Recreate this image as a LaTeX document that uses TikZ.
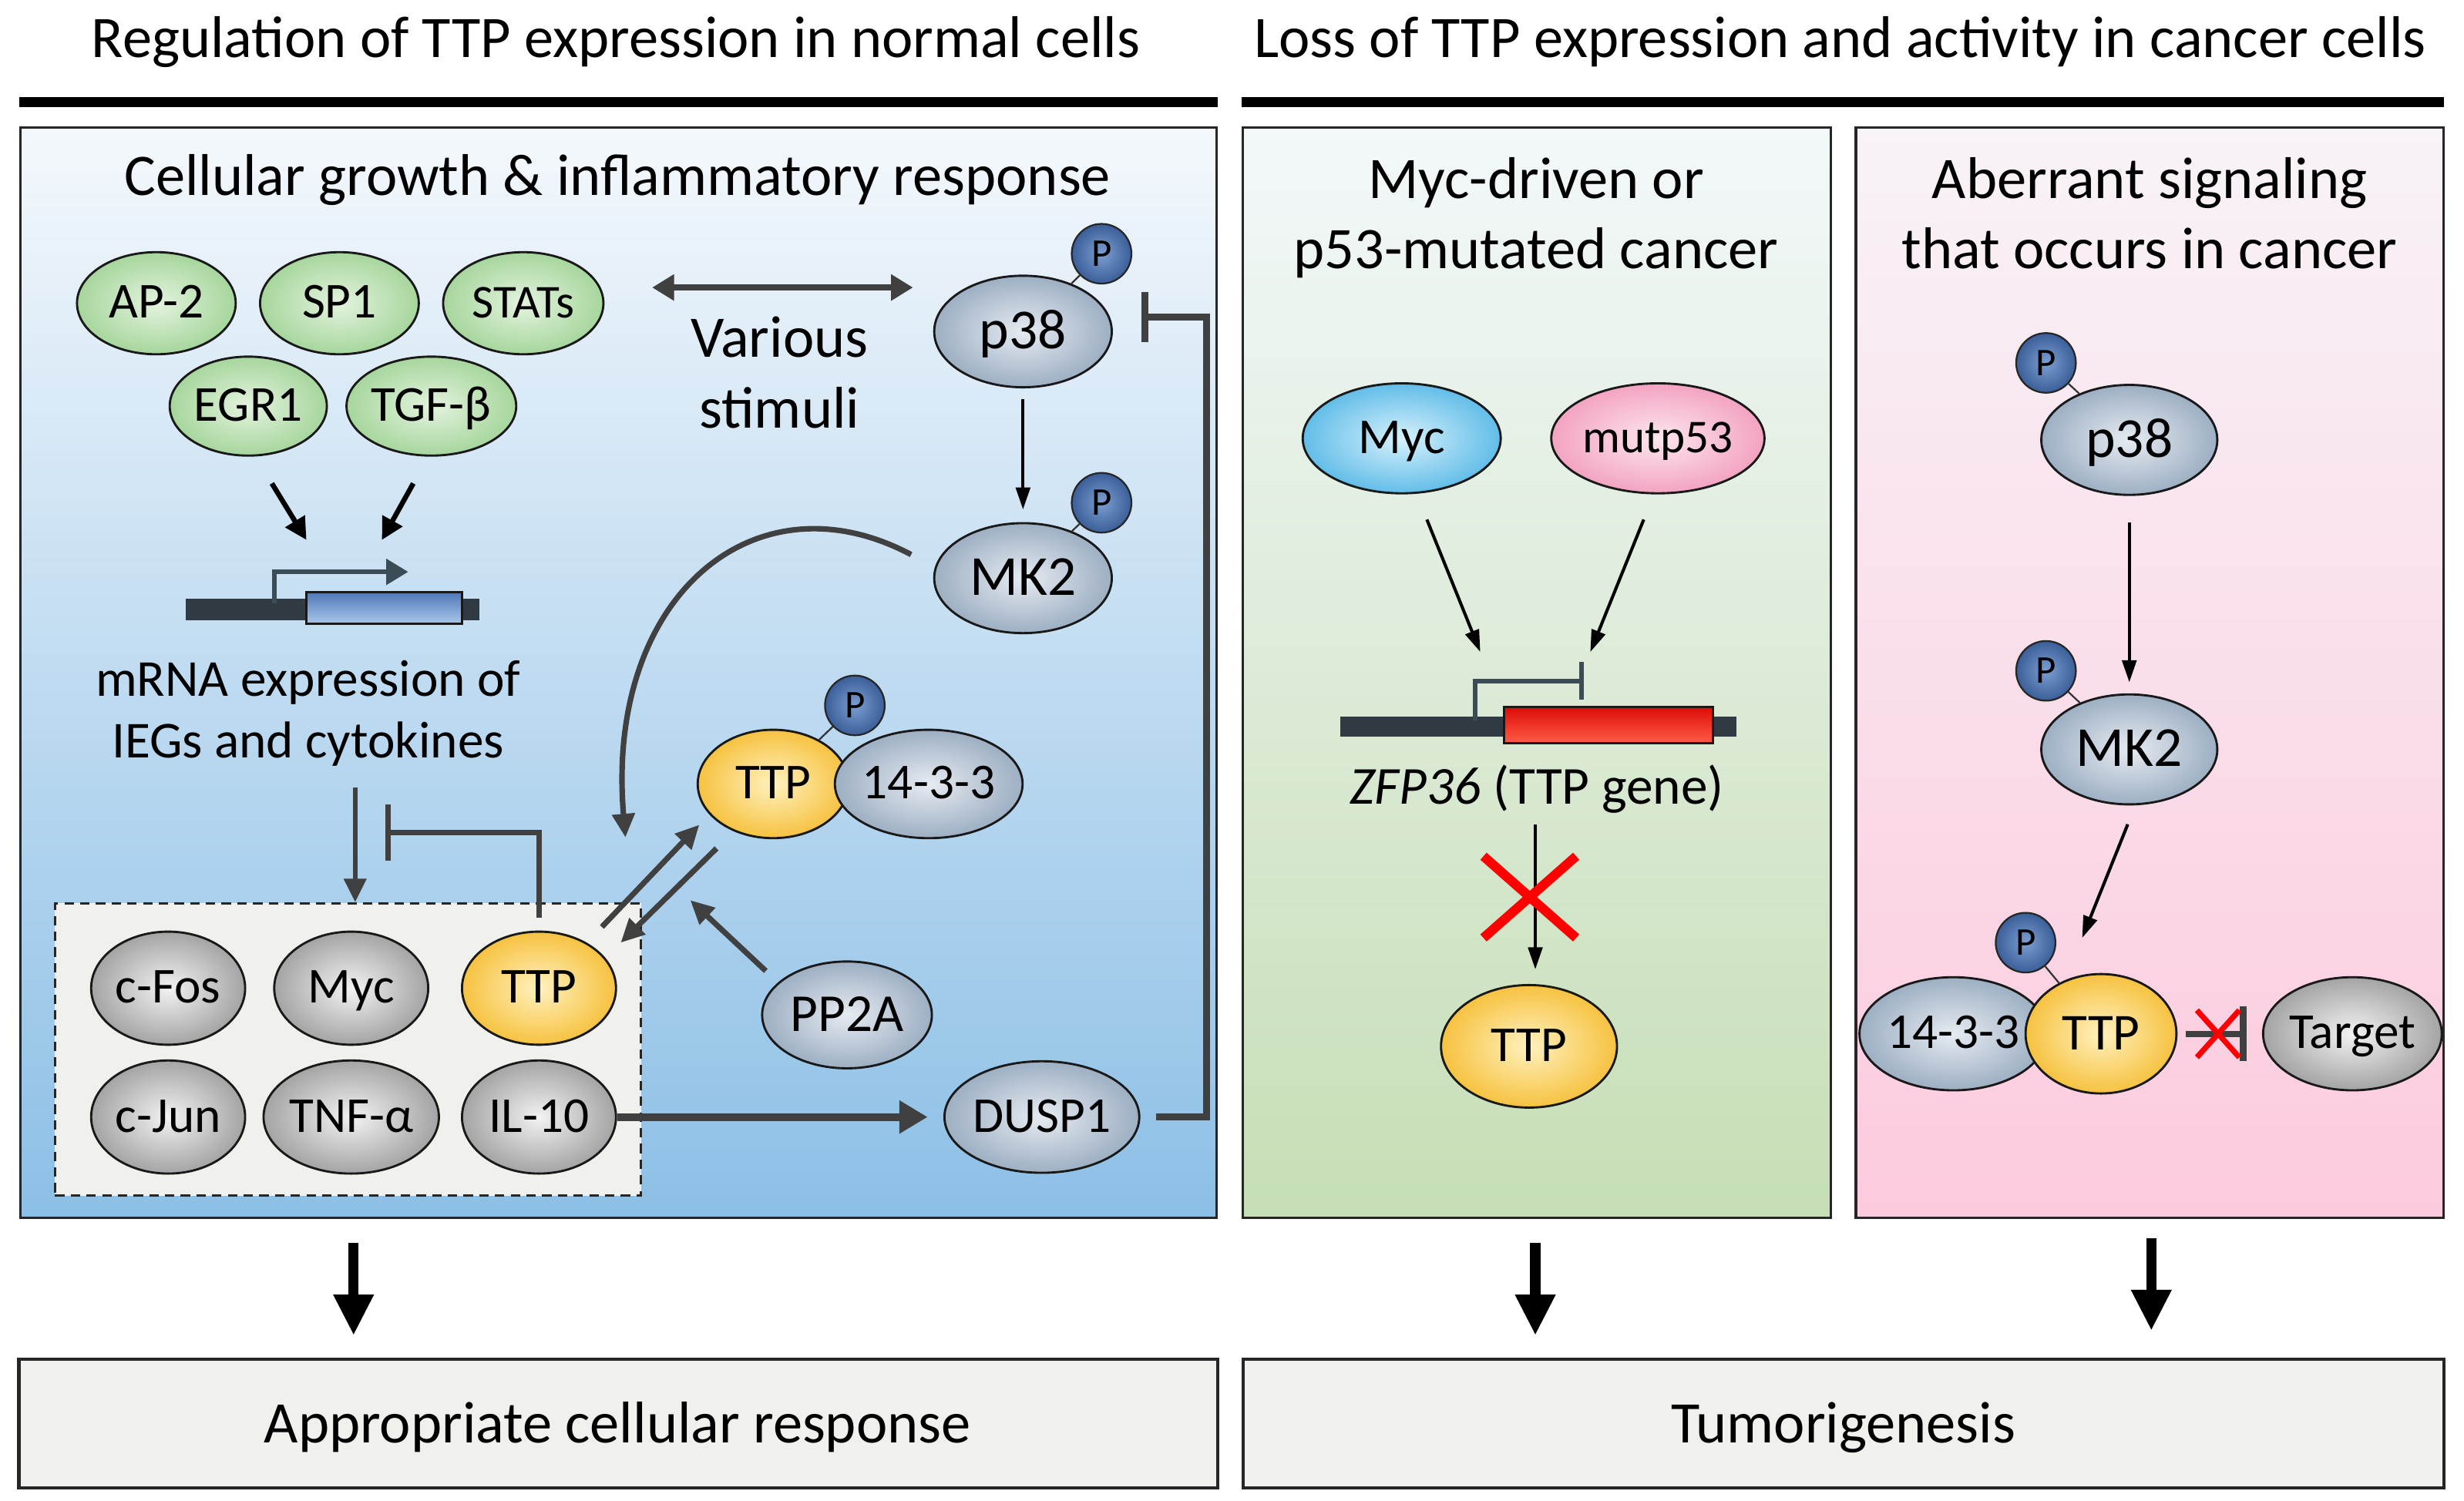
\documentclass[tikz,border=0pt]{standalone}
\usepackage{fontspec}
\setmainfont{Carlito}
\usetikzlibrary{arrows.meta,shapes.geometric,calc}
\definecolor{lineg}{HTML}{404040}
\definecolor{grnin}{HTML}{E4F3DF}
\definecolor{grnout}{HTML}{A6D69C}
\definecolor{gbin}{HTML}{E6EBF1}
\definecolor{gbout}{HTML}{9DAFC3}
\definecolor{gyin}{HTML}{F2F2F2}
\definecolor{gyout}{HTML}{A4A4A4}
\definecolor{ylin}{HTML}{FFF1BE}
\definecolor{ylout}{HTML}{F6C240}
\definecolor{myin}{HTML}{D6F1FC}
\definecolor{myout}{HTML}{62BDE8}
\definecolor{pkin}{HTML}{FDE6EE}
\definecolor{pkout}{HTML}{F3A3C2}
\definecolor{pin}{HTML}{7C9ED2}
\definecolor{pout}{HTML}{3A5E98}
\definecolor{boxfill}{HTML}{F0F0EC}
\definecolor{genebar}{HTML}{2F3A42}
\definecolor{promo}{HTML}{3C4C57}
\definecolor{exLt}{HTML}{4F78B8}
\definecolor{exLb}{HTML}{A9C6EC}
\definecolor{exMt}{HTML}{DC0C08}
\definecolor{exMb}{HTML}{FF5C46}
\definecolor{Ltop}{HTML}{F4F8FC}
\definecolor{Lbot}{HTML}{8CBFE6}
\definecolor{Mtop}{HTML}{F3F8FA}
\definecolor{Mbot}{HTML}{C6DEB5}
\definecolor{Rtop}{HTML}{F8F3F7}
\definecolor{Rbot}{HTML}{FCCADE}
\begin{document}
\begin{tikzpicture}[x=1pt,y=-1pt,
 txt/.style={font=\fontsize{37.5}{45}\selectfont, inner sep=0, anchor=base},
 prot/.style={ellipse, draw=black!90, line width=1.4, inner sep=0, minimum width=100, minimum height=66, text height=23, text depth=4, font=\fontsize{32}{36}\selectfont},
 big/.style={font=\fontsize{36}{40}\selectfont, text height=26, text depth=4},
 grn/.style={prot, inner color=grnin, outer color=grnout},
 gb/.style={prot, inner color=gbin, outer color=gbout},
 gy/.style={prot, inner color=gyin, outer color=gyout},
 yl/.style={prot, inner color=ylin, outer color=ylout},
 pc/.style={circle, draw=black!85, line width=1.1, inner color=pin, outer color=pout, minimum size=38, inner sep=0, font=\fontsize{25}{26}\selectfont, text height=16, text depth=0},
 plink/.style={draw=black!80, line width=1.1},
 panel/.style={rectangle, draw=black!85, line width=1.5, inner sep=0},
 garr/.style={draw=lineg, line width=3.5, -{Triangle[length=15,width=14]}},
 karr/.style={draw=black, line width=3.2, -{Triangle[length=14,width=14]}},
 barr/.style={draw=black, line width=2, -{Triangle[length=14,width=9]}},
 inh/.style={draw=lineg, line width=4, -{Bar[width=32,line width=4]}},
 bigarr/.style={draw=black, line width=6.5, -{Triangle[length=26,width=24]}},
 redx/.style={draw=red, line width=6}
]
\useasboundingbox (0,0) rectangle (1568,955.4);

% titles and rules
\node[txt] (tL) at (392,36.5) {Regulation of TTP expression in normal cells};
\node[txt] (tR) at (1171,36.5) {Loss of TTP expression and activity in cancer cells};
\draw[line width=6] (12.5,65) -- (775,65);
\draw[line width=6] (790,65) -- (1555,65);

% panels
\node[panel, top color=Ltop, bottom color=Lbot, minimum width=761, minimum height=694] (pL) at (393.5,428) {};
\node[panel, top color=Mtop, bottom color=Mbot, minimum width=374, minimum height=694] (pM) at (978,428) {};
\node[panel, top color=Rtop, bottom color=Rbot, minimum width=374, minimum height=694] (pR) at (1368,428) {};

% bottom boxes
\node[panel, line width=2, fill=boxfill, minimum width=763, minimum height=82] (resp) at (393.5,906) {};
\node[panel, line width=2, fill=boxfill, minimum width=764, minimum height=82] (tum) at (1173,906) {};
\node[txt] (resptxt) at (393,918.5) {Appropriate cellular response};
\node[txt] (tumtxt) at (1173,918.5) {Tumorigenesis};

% bottom arrows
\coordinate (bA1) at (225,791); \coordinate (bA2) at (977,791); \coordinate (bA3) at (1369,788);
\draw[bigarr] (bA1) -- (bA1 |- 0,850);
\draw[bigarr] (bA2) -- (bA2 |- 0,850);
\draw[bigarr] (bA3) -- (bA3 |- 0,847);

%%%%%%%% LEFT PANEL
\node[txt] (sub1) at (393,124.5) {Cellular growth \& inflammatory response};
\node[grn] (ap2) at (99.5,193) [minimum width=101, minimum height=65] {AP-2};
\node[grn] (sp1) at (216,193) [minimum width=101, minimum height=65] {SP1};
\node[grn] (stats) at (333,193) [minimum width=102, minimum height=65, font=\fontsize{30}{34}\selectfont] {STATs};
\node[grn] (egr1) at (158,258.5) [minimum width=100, minimum height=63] {EGR1};
\node[grn] (tgf) at (274.5,258.5) [minimum width=100, minimum height=63] {TGF-β};

\node[txt] (vs1) at (496,227.5) {Various};
\node[txt] (vs2) at (496,272.5) {stimuli};
\coordinate (vsa) at (415,183); \coordinate (vsb) at (581,183);
\draw[draw=lineg, line width=4, {Triangle[length=14,width=16]}-{Triangle[length=14,width=16]}] (vsa) -- (vsb);

\node[gb, big, minimum width=113, minimum height=71] (p38) at (651,211) {p38};
\node[pc] (p38P) at (701,161.5) {P};
\draw[plink] (p38P) -- (p38);
\node[gb, big, minimum width=113, minimum height=70] (mk2) at (651,368) {MK2};
\node[pc] (mk2P) at (701,320) {P};
\draw[plink] (mk2P) -- (mk2);
\draw[barr, shorten <=7, shorten >=8] (p38) -- (mk2);

% gene left
\draw[karr] ($(egr1.south)+(15,17)$) -- ++(22,36);
\draw[karr] ($(tgf.south)+(-11.5,17)$) -- ++(-20,36);
\node[rectangle, fill=genebar, inner sep=0, minimum width=187, minimum height=14] (geneL) at (211.5,388) {};
\node[rectangle, draw=black!90, line width=1.5, inner sep=0, top color=exLt, bottom color=exLb, minimum width=99, minimum height=20] (exonL) at (244.5,387) {};
\draw[draw=promo, line width=3, -{Triangle[length=14,width=16]}] ($(geneL.west)+(57,-4)$) |- ++(85,-20);

\node[txt, font=\fontsize{33}{40}\selectfont] (mr1) at (196,443) {mRNA expression of};
\node[txt, font=\fontsize{33}{40}\selectfont] (mr2) at (196,482.5) {IEGs and cytokines};

% dashed box
\node[panel, dashed, dash pattern=on 6 off 4, line width=1.5, fill=boxfill, minimum width=373, minimum height=186] (dbox) at (221.5,668) {};
\node[gy, minimum width=98, minimum height=72] (cfos) at (107,629) {c-Fos};
\node[gy, minimum width=98, minimum height=72] (myc1) at (223.5,629) {Myc};
\node[yl, minimum width=98, minimum height=72] (ttp1) at (343,629) {TTP};
\node[gy, minimum width=98, minimum height=72] (cjun) at (107,711) {c-Jun};
\node[gy, minimum width=98, minimum height=72] (tnf) at (223.5,711) {TNF-α};
\node[gy, minimum width=98, minimum height=72] (il10) at (343,711) {IL-10};

\coordinate (mrD) at (226,501);
\draw[garr, line width=3] (mrD) -- (mrD |- dbox.north);
\coordinate (inhL) at (245,530);
\draw[inh, line width=3.5, -{Bar[width=36,line width=3.5]}] ([yshift=8]ttp1.north) |- (inhL);

% TTP complex
\node[yl, minimum width=96, minimum height=69] (ttpc) at (492,499) {TTP};
\node[gb, minimum width=108, minimum height=69] (c1433) at (591,499) {14-3-3};
\node[pc] (ttpcP) at (544,449) {P};
\draw[plink] (ttpcP) -- (ttpc);

\node[gb, minimum width=108, minimum height=68, font=\fontsize{34}{38}\selectfont, text height=25, text depth=4] (pp2a) at (539,646) {PP2A};
\node[gb, minimum width=106, minimum height=71] (dusp1) at (663,711) {DUSP1};

\draw[garr] ($(mk2.west)+(-14,-15)$) .. controls (480,300) and (385,380) .. (398,533);
\coordinate (pa1) at (383,590); \coordinate (pa2) at (445,525);
\coordinate (pb1) at (456,540); \coordinate (pb2) at (395,600);
\draw[garr] (pa1) -- (pa2);
\draw[garr] (pb1) -- (pb2);
\draw[garr] ($(pp2a.west)+(3,-28)$) -- ++(-48,-45);
\draw[draw=lineg, line width=5, -{Triangle[length=18,width=20]}, shorten >=10] (il10) -- (dusp1);
\draw[inh, line width=4.5, -{Bar[width=32,line width=4.5]}] ([xshift=10]dusp1.east) -- ++(32,0) |- ([xshift=18,yshift=9]p38.east);

%%%%%%%% MIDDLE PANEL
\node[txt] (my1) at (977.5,126.5) {Myc-driven or};
\node[txt] (my2) at (977.5,171) {p53-mutated cancer};
\node[prot, inner color=myin, outer color=myout, minimum width=126, minimum height=70] (myc2) at (892,279) {Myc};
\node[prot, inner color=pkin, outer color=pkout, minimum width=126, minimum height=70, font=\fontsize{30}{34}\selectfont, text height=22, text depth=4] (mutp53) at (1055,279) {mutp53};
\draw[barr] ($(myc2.south)+(16,16)$) -- (942,415);
\draw[barr] ($(mutp53.south)+(-9,16)$) -- (1012,415);
\node[rectangle, fill=genebar, inner sep=0, minimum width=252, minimum height=13] (geneM) at (979,462.5) {};
\node[rectangle, draw=black!90, line width=1.5, inner sep=0, top color=exMt, bottom color=exMb, minimum width=133, minimum height=23] (exonM) at (1023.5,461.5) {};
\draw[draw=promo, line width=3, -{Bar[width=24,line width=3]}] ($(geneM.west)+(86,-4)$) |- ++(69,-25);
\node[txt, font=\fontsize{34}{40}\selectfont] (zfp) at (978,512) {\textit{ZFP36} (TTP gene)};
\node[yl, minimum width=112, minimum height=78] (ttp2) at (973,666) {TTP};
\coordinate (zD) at (977,525);
\draw[barr] (zD) -- (zD |- 0,617);
\draw[redx] (944,545) -- (1003,597);
\draw[redx] (944,597) -- (1003,545);

%%%%%%%% RIGHT PANEL
\node[txt] (ab1) at (1368,126.5) {Aberrant signaling};
\node[txt] (ab2) at (1368,171) {that occurs in cancer};
\node[gb, big, minimum width=112, minimum height=70] (p38r) at (1355,280) {p38};
\node[pc] (p38rP) at (1302,231) {P};
\draw[plink] (p38rP) -- (p38r);
\node[gb, big, minimum width=112, minimum height=70] (mk2r) at (1355,477) {MK2};
\node[pc] (mk2rP) at (1302,427) {P};
\draw[plink] (mk2rP) -- (mk2r);
\draw[barr, shorten <=17, shorten >=7] (p38r) -- (mk2r);
\node[gb, minimum width=106, minimum height=72] (c1433r) at (1243,658) {14-3-3};
\node[yl, minimum width=96, minimum height=76, font=\fontsize{33}{36}\selectfont, text height=24, text depth=4] (ttp3) at (1337,658) {TTP};
\node[pc] (ttp3P) at (1289,600) {P};
\draw[plink] (ttp3P) -- (ttp3);
\draw[barr] ($(mk2r.south)+(-1,12)$) -- (1325,597);
\node[gy, minimum width=102, minimum height=72] (target) at (1497,658) {Target};
\draw[draw=lineg, line width=4, -{Bar[width=35,line width=4]}, shorten <=5] (ttp3.east) -- ($(target.west)+(-10,0)$);
\draw[redx, line width=3.5] (1398,643) -- (1425,673);
\draw[redx, line width=3.5] (1398,673) -- (1425,643);
\end{tikzpicture}
\end{document}
